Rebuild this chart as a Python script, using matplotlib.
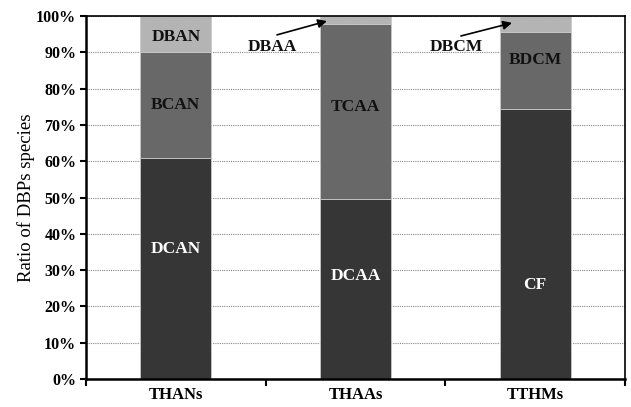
import numpy as np
import matplotlib.pyplot as plt
from matplotlib.ticker import PercentFormatter

# Data (percent of each DBP class)
groups = ["THANs", "THAAs", "TTHMs"]
bottom_vals = [60.8, 49.5, 74.3]
middle_vals = [29.4, 48.2, 21.4]
top_vals = [9.8, 2.3, 4.3]
bottom_names = ["DCAN", "DCAA", "CF"]
middle_names = ["BCAN", "TCAA", "BDCM"]
top_names = ["DBAN", "DBAA", "DBCM"]

plt.rcParams['font.family'] = ['Liberation Serif', 'DejaVu Serif']
plt.rcParams['font.weight'] = 'bold'

fig = plt.figure(figsize=(6.31, 4.07), dpi=100)
ax = fig.add_axes([86/631, 1 - 379/407, 539/631, 363/407])

x = np.arange(len(groups))
w = 0.395
b = np.array(bottom_vals)
m = np.array(middle_vals)
t = np.array(top_vals)

ax.bar(x, b, w, color='#363636', edgecolor='#c8c8c8', linewidth=0.6, zorder=2)
ax.bar(x, m, w, bottom=b, color='#686868', edgecolor='#c8c8c8', linewidth=0.6, zorder=2)
ax.bar(x, t, w, bottom=b + m, color='#b4b4b4', edgecolor='#c8c8c8', linewidth=0.6, zorder=2)

# labels inside bars
bottom_y = [35.8, 28.4, 26.0]
middle_y = [75.5, 75.0, 87.9]
for i in range(3):
    ax.text(x[i], bottom_y[i], bottom_names[i], ha='center', va='center',
            color='white', fontsize=12.5, fontweight='bold', zorder=3)
    ax.text(x[i], middle_y[i], middle_names[i], ha='center', va='center',
            color='#111111', fontsize=12.5, fontweight='bold', zorder=3)
ax.text(x[0], 94.2, top_names[0], ha='center', va='center',
        color='#111111', fontsize=12.5, fontweight='bold', zorder=3)

# callouts for the thin top segments
ax.text(x[1] - 0.465, 91.5, top_names[1], ha='center', va='center',
        fontsize=12.5, fontweight='bold', color='#111111', zorder=4)
ax.annotate('', xy=(x[1] - 0.159, 98.6), xytext=(x[1] - 0.437, 94.8),
            arrowprops=dict(arrowstyle='-|>', color='black', lw=1.2,
                            shrinkA=0, shrinkB=0, mutation_scale=13), zorder=4)
ax.text(x[2] - 0.441, 91.4, top_names[2], ha='center', va='center',
        fontsize=12.5, fontweight='bold', color='#111111', zorder=4)
ax.annotate('', xy=(x[2] - 0.129, 98.1), xytext=(x[2] - 0.413, 94.5),
            arrowprops=dict(arrowstyle='-|>', color='black', lw=1.2,
                            shrinkA=0, shrinkB=0, mutation_scale=13), zorder=4)

ax.set_xlim(-0.5, 2.5)
ax.set_ylim(0, 100)
ax.set_yticks(np.arange(0, 101, 10))
ax.yaxis.set_major_formatter(PercentFormatter(decimals=0))
ax.yaxis.grid(True, linestyle=(0, (1, 1)), color='#888888', linewidth=0.8, zorder=0)

ax.set_xticks([-0.5, 0.5, 1.5, 2.5])
ax.set_xticklabels([])
ax.set_xticks(x, minor=True)
ax.set_xticklabels(groups, minor=True)
ax.tick_params(axis='x', which='minor', length=0, pad=6, labelsize=12)
ax.tick_params(axis='x', which='major', length=5, width=1.5, direction='out')
ax.tick_params(axis='y', length=4, width=1.5, direction='out', labelsize=11.5, pad=3)

for lbl in ax.get_xticklabels(minor=True) + ax.get_yticklabels():
    lbl.set_fontweight('bold')

ax.spines['left'].set_linewidth(1.8)
ax.spines['bottom'].set_linewidth(1.8)
ax.spines['top'].set_linewidth(1.2)
ax.spines['right'].set_linewidth(1.2)

ax.set_ylabel("Ratio of DBPs species", fontsize=13.5, fontweight='normal', labelpad=1)

fig.savefig("out.png", dpi=100)
